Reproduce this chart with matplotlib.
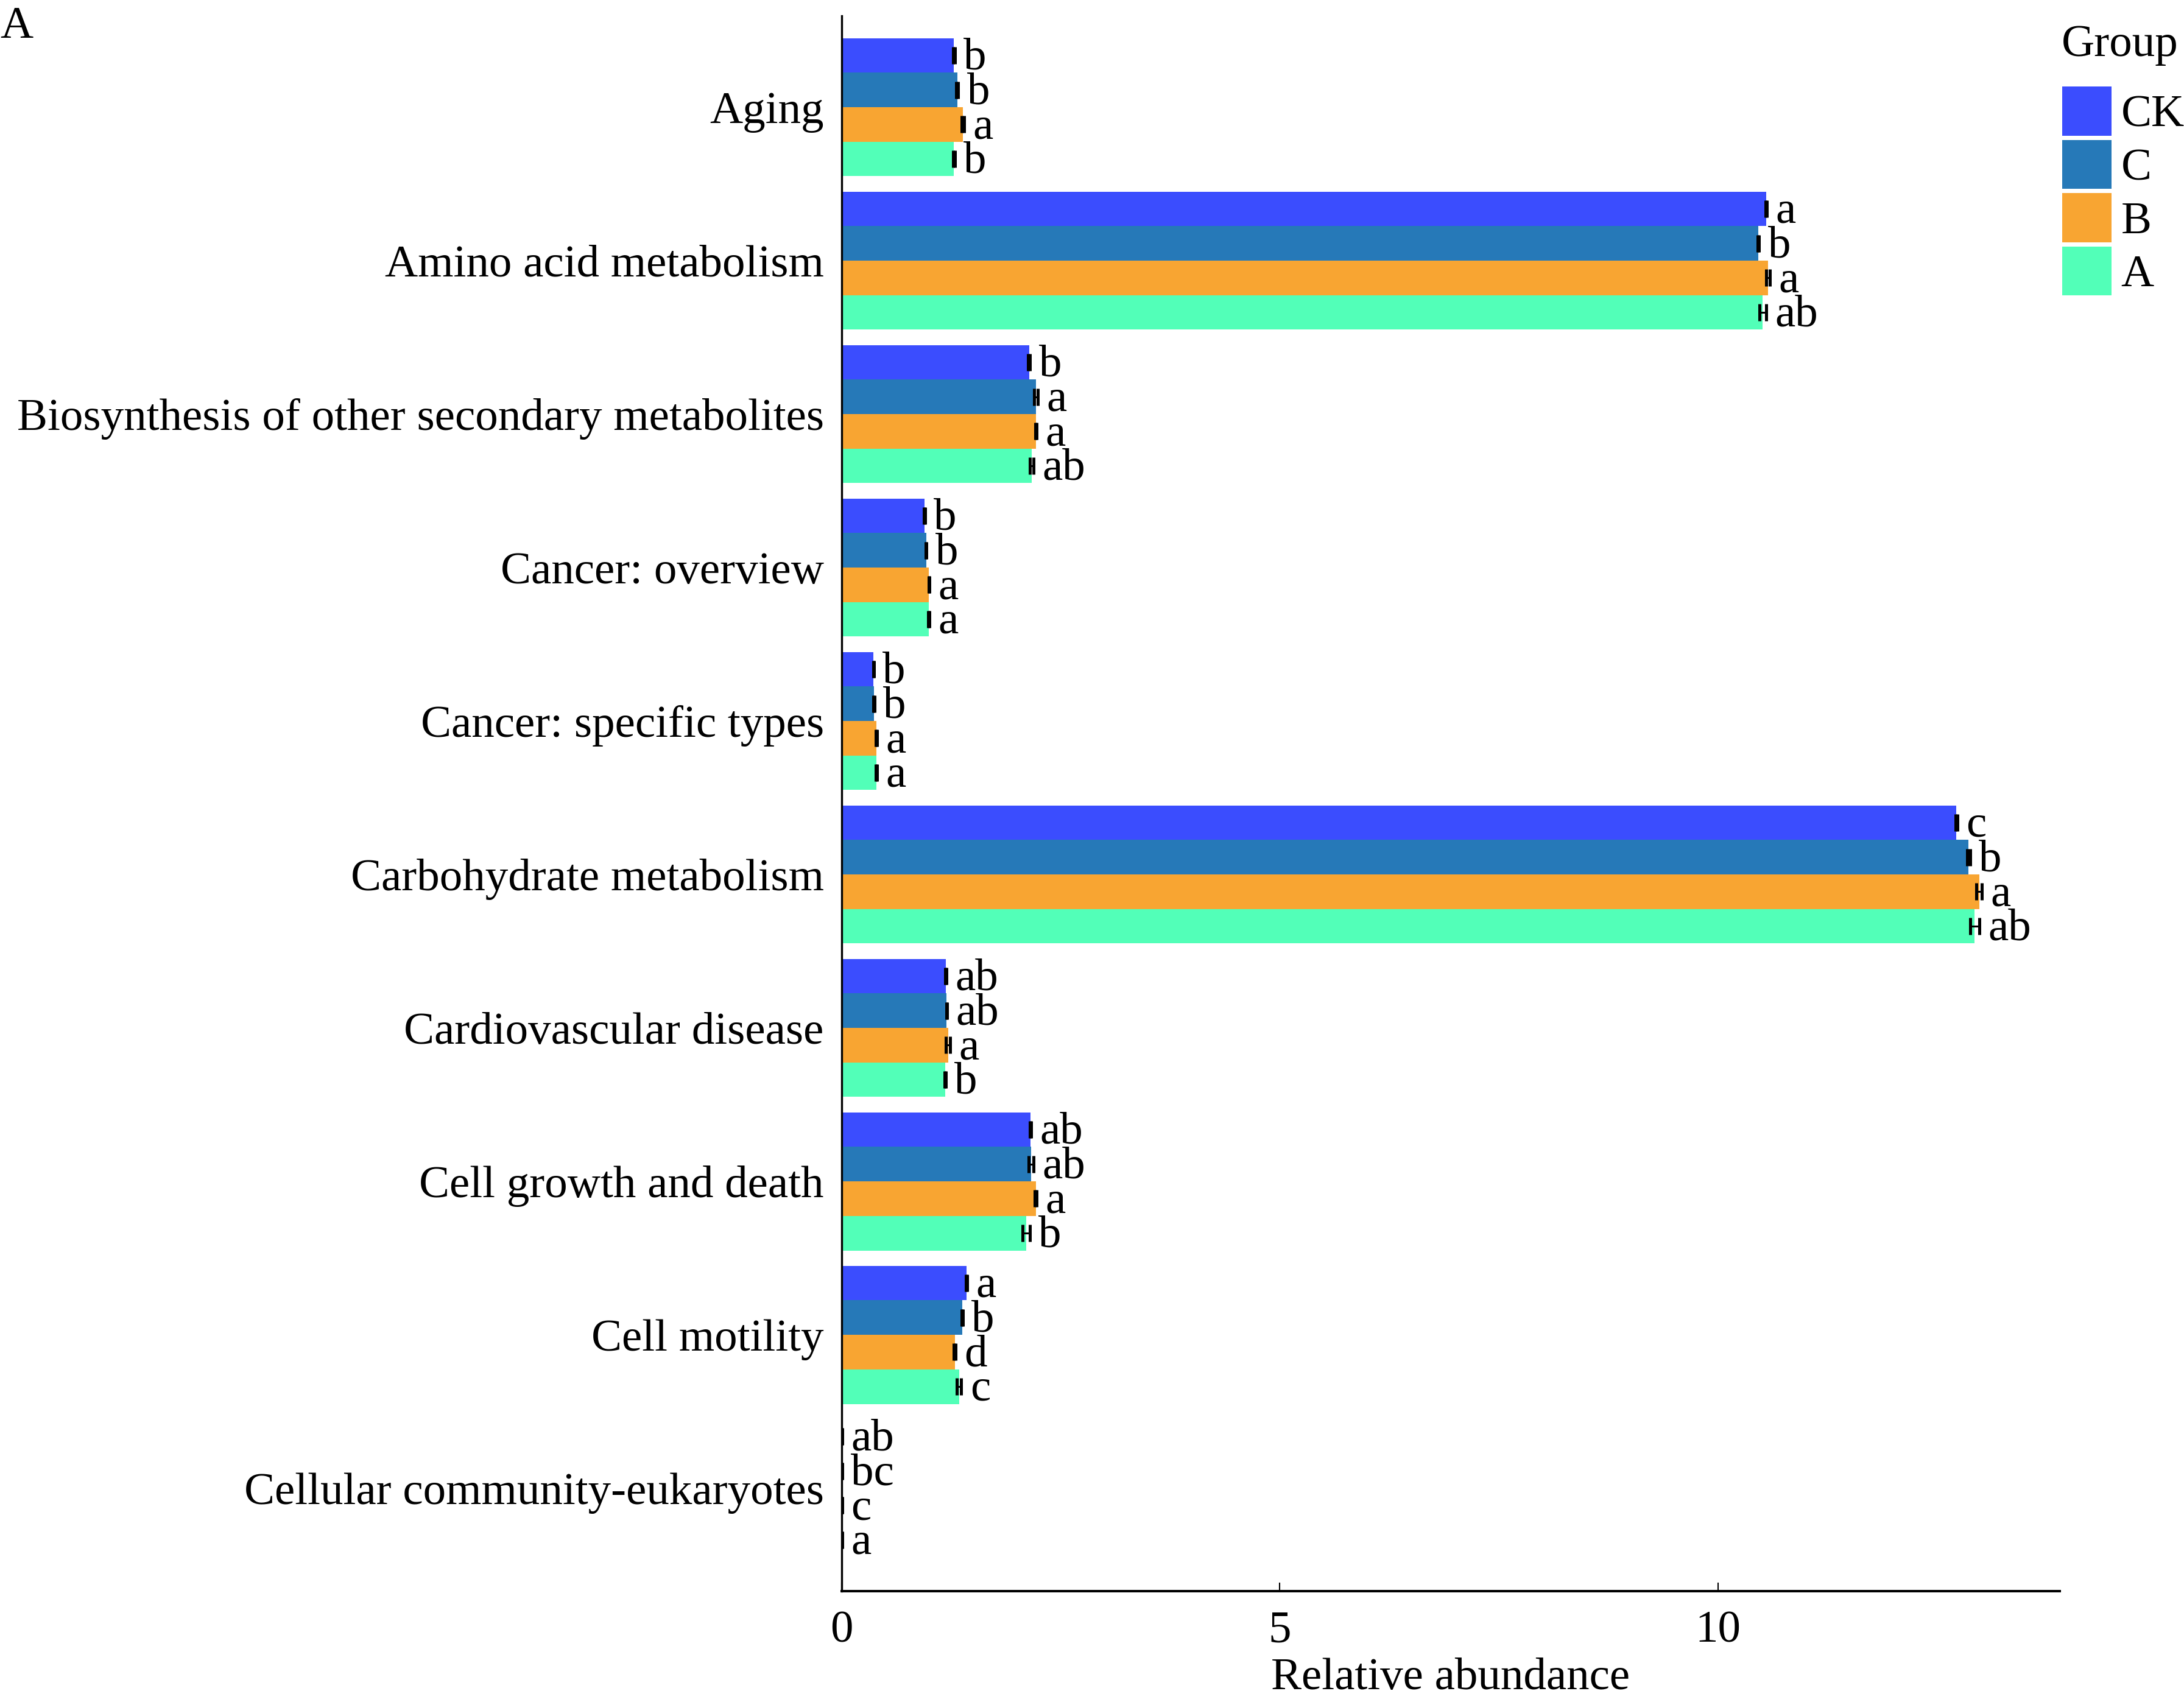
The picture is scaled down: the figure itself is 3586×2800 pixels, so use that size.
import numpy as np
import matplotlib.pyplot as plt
from matplotlib.patches import Patch

plt.rcParams['font.family'] = ['Liberation Serif', 'DejaVu Serif']

# KEGG level-2 pathways (top to bottom)
pathways = ['Aging', 'Amino acid metabolism',
            'Biosynthesis of other secondary metabolites',
            'Cancer: overview', 'Cancer: specific types',
            'Carbohydrate metabolism', 'Cardiovascular disease',
            'Cell growth and death', 'Cell motility',
            'Cellular community-eukaryotes']
groups = ['CK', 'C', 'B', 'A']
colors = ['#3B4DFE', '#2679B8', '#F8A532', '#52FFB8']

# mean relative abundance per group
ck = [1.28, 10.55, 2.14, 0.945, 0.364, 12.72, 1.188, 2.154, 1.427, 0.004]
c = [1.32, 10.46, 2.217, 0.964, 0.368, 12.86, 1.197, 2.161, 1.374, 0.004]
b = [1.383, 10.57, 2.217, 0.996, 0.396, 12.98, 1.214, 2.215, 1.29, 0.004]
a = [1.28, 10.51, 2.168, 0.994, 0.396, 12.93, 1.181, 2.106, 1.339, 0.004]

# standard deviations
ck_sd = [0.01, 0.01, 0.01, 0.005, 0.005, 0.01, 0.005, 0.008, 0.008, 0.003]
c_sd = [0.01, 0.01, 0.02, 0.005, 0.005, 0.018, 0.005, 0.03, 0.008, 0.003]
b_sd = [0.012, 0.02, 0.01, 0.005, 0.005, 0.029, 0.025, 0.01, 0.008, 0.003]
a_sd = [0.01, 0.037, 0.02, 0.005, 0.005, 0.053, 0.005, 0.04, 0.025, 0.003]

# significance letters
ck_lab = ['b', 'a', 'b', 'b', 'b', 'c', 'ab', 'ab', 'a', 'ab']
c_lab = ['b', 'b', 'a', 'b', 'b', 'b', 'ab', 'ab', 'b', 'bc']
b_lab = ['a', 'a', 'a', 'a', 'a', 'a', 'a', 'a', 'd', 'c']
a_lab = ['b', 'ab', 'ab', 'a', 'a', 'ab', 'b', 'b', 'c', 'a']

means = [ck, c, b, a]
sds = [ck_sd, c_sd, b_sd, a_sd]
labs = [ck_lab, c_lab, b_lab, a_lab]

W, H = 3587, 2800
fig = plt.figure(figsize=(W / 100, H / 100), dpi=100)
ax = fig.add_axes([1382 / W, 187 / H, (3382 - 1382) / W, (2613 - 26) / H])

fs = 54
pos = np.arange(len(pathways))
bw = 0.225
for k in range(4):
    y = pos + (k - 1.5) * bw
    m = np.array(means[k])
    s = np.array(sds[k])
    ax.barh(y, m, height=bw, color=colors[k], edgecolor='none', zorder=2)
    ax.errorbar(m, y, xerr=s, fmt='none', ecolor='black', elinewidth=2.2,
                capsize=10.4, capthick=3.6, zorder=3)
    for yi, xi, lab in zip(y, m + s, labs[k]):
        ax.text(xi + 0.1, yi + 0.02, lab, ha='left', va='center', fontsize=fs, zorder=4)

ax.set_xlim(0, 13.9)
ax.set_ylim(9.67, -0.595)
ax.set_yticks(pos)
ax.set_yticklabels(pathways, fontsize=fs)
ax.set_xticks([0, 5, 10])
ax.tick_params(axis='x', direction='in', length=10, width=1.5, pad=23, labelsize=fs)
ax.tick_params(axis='y', length=0, pad=21, labelsize=fs)
ax.set_xlabel('Relative abundance', fontsize=fs, labelpad=7)

for sp in ['top', 'right']:
    ax.spines[sp].set_visible(False)
ax.spines['left'].set_linewidth(2.4)
ax.spines['bottom'].set_linewidth(2.9)

handles = [Patch(facecolor=col, edgecolor='none') for col in colors]
leg = fig.legend(handles, groups, loc='upper left',
                 bbox_to_anchor=(3386 / W, 1 - 142 / H), frameon=False,
                 fontsize=fs, borderpad=0, borderaxespad=0,
                 handlelength=1.08, handleheight=1.28, handletextpad=0.21,
                 labelspacing=0.08)
fig.text(3385 / W, 1 - 41 / H, 'Group', ha='left', va='top', fontsize=fs)

fig.text(0.0, 1 - 10 / H, 'A', ha='left', va='top', fontsize=fs)

fig.savefig('out.png', dpi=100)
